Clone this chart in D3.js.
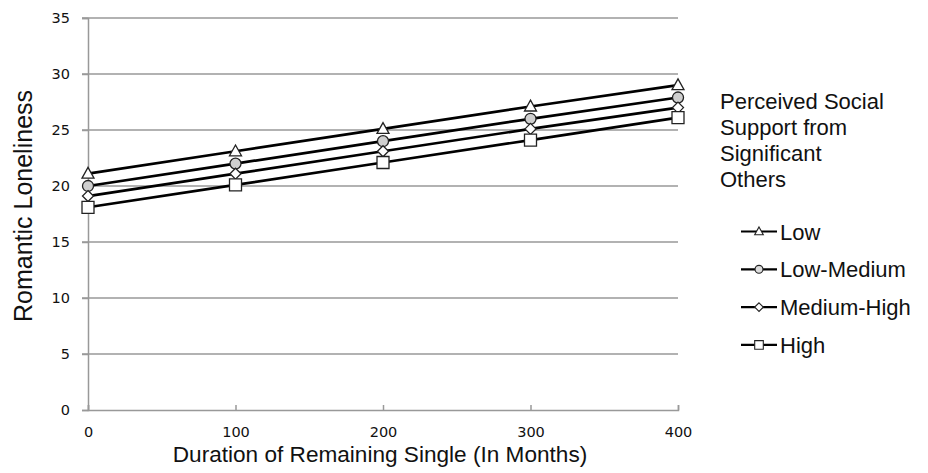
<!DOCTYPE html>
<html><head><meta charset="utf-8">
<script src="https://cdn.jsdelivr.net/npm/d3@7"></script>
<style>body{margin:0;background:#fff}svg{display:block}</style>
</head><body><svg id="c" width="928" height="473"></svg>
<script>
const months = [0, 100, 200, 300, 400];
const seriesNames = ["Low", "Low-Medium", "Medium-High", "High"];
const lowVals = [21.1, 23.1, 25.1, 27.1, 29.0];
const lowMedVals = [20.0, 22.0, 24.0, 26.0, 27.9];
const medHighVals = [19.1, 21.1, 23.1, 25.1, 27.0];
const highVals = [18.1, 20.1, 22.1, 24.1, 26.1];
const yTicks = [0, 5, 10, 15, 20, 25, 30, 35];
const xTicks = [0, 100, 200, 300, 400];
const legendTitle = ["Perceived Social", "Support from", "Significant", "Others"];

const allVals = [lowVals, lowMedVals, medHighVals, highVals];
const shapes = ["triangle", "circle", "diamond", "square"];
const fills = ["#fff", "#cfcfcf", "#fff", "#fff"];

const svg = d3.select("#c");
const x = d3.scaleLinear().domain([0, 400]).range([88, 678]);
const y = d3.scaleLinear().domain([0, 35]).range([410, 18]);
const grid = "#999";

// gridlines
svg.append("g").selectAll("line").data(yTicks.filter(d => d > 0)).join("line")
  .attr("x1", x(0) - 6).attr("x2", x(400)).attr("y1", d => y(d)).attr("y2", d => y(d))
  .attr("stroke", grid).attr("stroke-width", 1.5);

// y axis
const ya = svg.append("g").attr("transform", `translate(${x(0)},0)`)
  .call(d3.axisLeft(y).tickValues(yTicks).tickSize(6).tickPadding(12));
ya.selectAll("path,line").attr("stroke", grid).attr("stroke-width", 1.5);
ya.selectAll("text").attr("font-family", "DejaVu Sans").attr("font-size", 14.5).attr("fill", "#111");

// x axis
const xa = svg.append("g").attr("transform", `translate(0,${y(0)})`)
  .call(d3.axisBottom(x).tickValues(xTicks).tickSize(-5).tickSizeOuter(-5).tickPadding(17));
xa.selectAll("path,line").attr("stroke", grid).attr("stroke-width", 1.5);
xa.selectAll("text").attr("font-family", "DejaVu Sans").attr("font-size", 14.5).attr("fill", "#111");

// axis titles
svg.append("text").attr("transform", `translate(32,${206}) rotate(-90)`)
  .attr("text-anchor", "middle").attr("font-family", "Liberation Sans").attr("font-size", 25)
  .attr("fill", "#111").text("Romantic Loneliness");
svg.append("text").attr("x", 380).attr("y", 462)
  .attr("text-anchor", "middle").attr("font-family", "Liberation Sans").attr("font-size", 22.6)
  .attr("fill", "#111").text("Duration of Remaining Single (In Months)");

function sym(shape, s) {
  const p = d3.path();
  if (shape === "triangle") {
    p.moveTo(0, -s * 1.05); p.lineTo(s, s * 0.75); p.lineTo(-s, s * 0.75); p.closePath();
  } else if (shape === "circle") {
    p.arc(0, 0, s * 0.92, 0, 2 * Math.PI);
  } else if (shape === "diamond") {
    p.moveTo(0, -s); p.lineTo(s, 0); p.lineTo(0, s); p.lineTo(-s, 0); p.closePath();
  } else {
    p.rect(-s, -s, 2 * s, 2 * s);
  }
  return p.toString();
}

const line = d3.line().x((d, i) => x(months[i])).y(d => y(d));
allVals.forEach((vals, s) => {
  const g = svg.append("g");
  g.append("path").attr("d", line(vals)).attr("fill", "none").attr("stroke", "#000").attr("stroke-width", 2.7);
  g.selectAll("path.m").data(vals).join("path").attr("class", "m")
    .attr("transform", (d, i) => `translate(${x(months[i])},${y(d)})`)
    .attr("d", sym(shapes[s], shapes[s] === "diamond" ? 5.5 : 6))
    .attr("fill", fills[s]).attr("stroke", "#222").attr("stroke-width", 1.3);
});

// legend
const lt = svg.append("text").attr("font-family", "Liberation Sans").attr("font-size", 22).attr("fill", "#111");
legendTitle.forEach((t, i) => lt.append("tspan").attr("x", 720).attr("y", 109 + i * 26).text(t));
seriesNames.forEach((n, i) => {
  const cy = 231.5 + i * 37.8;
  const g = svg.append("g");
  g.append("line").attr("x1", 741).attr("x2", 777).attr("y1", cy).attr("y2", cy).attr("stroke", "#000").attr("stroke-width", 2.2);
  g.append("path").attr("transform", `translate(759,${cy})`).attr("d", sym(shapes[i], 4.3))
    .attr("fill", i === 1 ? "#ddd" : "#fff").attr("stroke", "#222").attr("stroke-width", 1.1);
  g.append("text").attr("x", 780).attr("y", cy + 8).attr("font-family", "Liberation Sans").attr("font-size", 22)
    .attr("fill", "#111").text(n);
});
</script></body></html>
